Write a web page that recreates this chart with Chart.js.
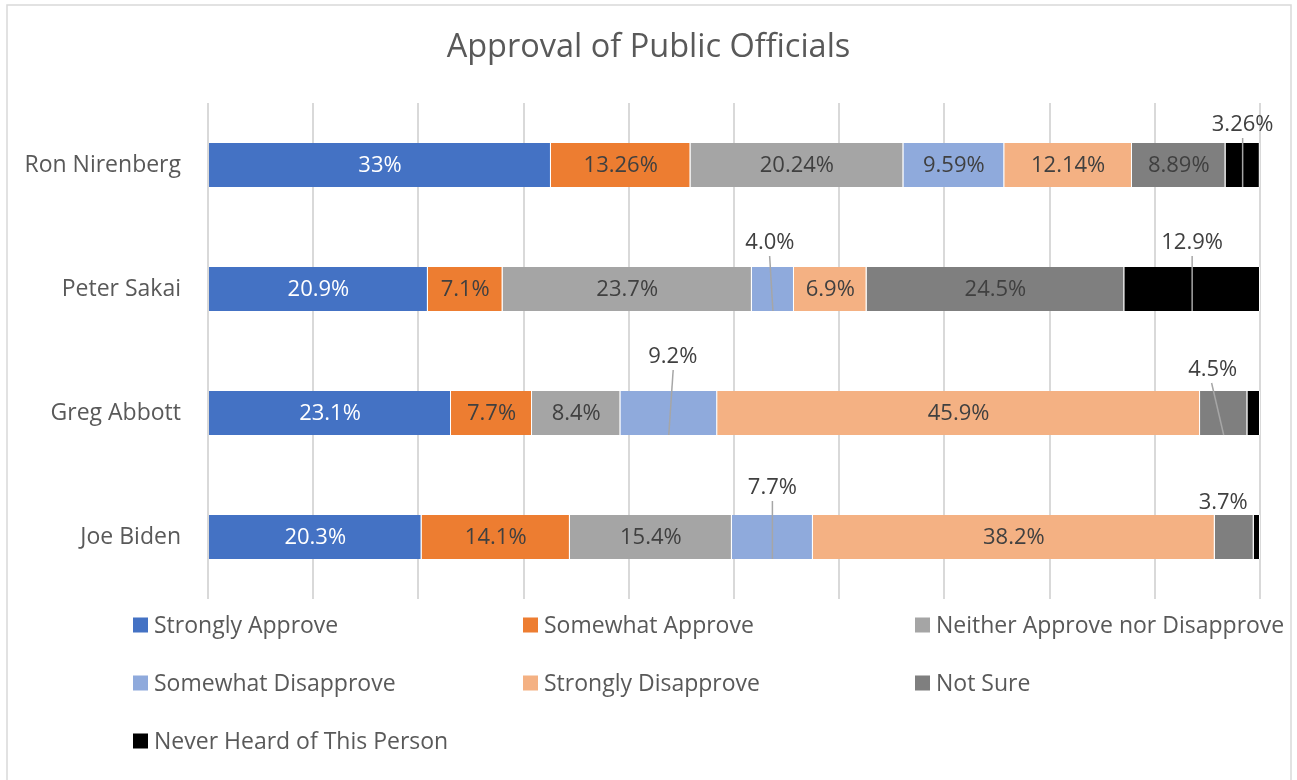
<!DOCTYPE html>
<html lang="en">
<head>
  <meta charset="UTF-8" />
  <title>Approval of Public Officials</title>
  <style>
    html, body {
      margin: 0;
      padding: 0;
      background: #fff;
    }
    #wrap {
      width: 1297px;
      height: 780px;
      position: relative;
    }
  </style>
</head>
<body>
  <div id="wrap">
    <canvas id="grafico" width="1297" height="780"></canvas>
  </div>

  <script src="https://cdn.jsdelivr.net/npm/chart.js"></script>
  <script>
    // categories (top to bottom)
    const officials = ['Ron Nirenberg', 'Peter Sakai', 'Greg Abbott', 'Joe Biden'];

    // series values, in percent
    const strongApprove      = [32.6, 20.9, 23.1, 20.3];
    const somewhatApprove    = [13.26, 7.1, 7.7, 14.1];
    const neither            = [20.24, 23.7, 8.4, 15.4];
    const somewhatDisapprove = [9.59, 4.0, 9.2, 7.7];
    const strongDisapprove   = [12.14, 6.9, 45.9, 38.2];
    const notSure            = [8.89, 24.5, 4.5, 3.7];
    const neverHeard         = [3.26, 12.9, 1.2, 0.6];

    // data label texts as printed on the chart ('' = no label)
    const strongApproveTxt      = ['33%', '20.9%', '23.1%', '20.3%'];
    const somewhatApproveTxt    = ['13.26%', '7.1%', '7.7%', '14.1%'];
    const neitherTxt            = ['20.24%', '23.7%', '8.4%', '15.4%'];
    const somewhatDisapproveTxt = ['9.59%', '4.0%', '9.2%', '7.7%'];
    const strongDisapproveTxt   = ['12.14%', '6.9%', '45.9%', '38.2%'];
    const notSureTxt            = ['8.89%', '24.5%', '4.5%', '3.7%'];
    const neverHeardTxt         = ['3.26%', '12.9%', '', ''];

    const xTicks = [0, 10, 20, 30, 40, 50, 60, 70, 80, 90, 100];

    const titulo = 'Approval of Public Officials';

    // labels that sit above the bar with a leader line: "dataset:category"
    const callouts = {
      '6:0': { dx: 0,   dy: 18, line: true },
      '3:1': { dx: -3,  dy: 24, line: true },
      '6:1': { dx: 0,   dy: 24, line: true },
      '3:2': { dx: 4,   dy: 34, line: true },
      '5:2': { dx: -11, dy: 21, line: true },
      '3:3': { dx: 0,   dy: 27, line: true },
      '5:3': { dx: -11, dy: 12, line: false }
    };

    const FONT = "'Open Sans', 'Noto Sans', sans-serif";
    const TXT = '#595959';

    function serie(label, data, texts, color, labelColor) {
      return {
        label, data,
        texts,
        labelColor,
        backgroundColor: color,
        borderColor: '#ffffff',
        borderWidth: { top: 0, bottom: 0, left: 0, right: 1 },
        borderSkipped: false,
        categoryPercentage: 1,
        barPercentage: 0.355
      };
    }

    const datasets = [
      serie('Strongly Approve', strongApprove, strongApproveTxt, '#4472C4', '#ffffff'),
      serie('Somewhat Approve', somewhatApprove, somewhatApproveTxt, '#ED7D31', '#404040'),
      serie('Neither Approve nor Disapprove', neither, neitherTxt, '#A5A5A5', '#404040'),
      serie('Somewhat Disapprove', somewhatDisapprove, somewhatDisapproveTxt, '#8FAADC', '#404040'),
      serie('Strongly Disapprove', strongDisapprove, strongDisapproveTxt, '#F4B183', '#404040'),
      serie('Not Sure', notSure, notSureTxt, '#7F7F7F', '#404040'),
      serie('Never Heard of This Person', neverHeard, neverHeardTxt, '#000000', '#404040')
    ];

    // outer frame and title, centred on the whole canvas
    const marco = {
      id: 'marco',
      beforeDraw(chart) {
        const ctx = chart.ctx;
        ctx.save();
        ctx.fillStyle = '#fff';
        ctx.fillRect(0, 0, chart.width, chart.height);
        ctx.strokeStyle = '#d9d9d9';
        ctx.lineWidth = 1.5;
        ctx.strokeRect(7, 5, 1284, 800);
        ctx.font = '32.5px ' + FONT;
        ctx.fillStyle = TXT;
        ctx.textAlign = 'center';
        ctx.textBaseline = 'middle';
        ctx.fillText(titulo, chart.width / 2, 48);
        ctx.restore();
      }
    };

    // data labels, inside the segments or above them with a leader line
    const etiquetas = {
      id: 'etiquetas',
      afterDatasetsDraw(chart) {
        const ctx = chart.ctx;
        ctx.save();
        ctx.font = '22px ' + FONT;
        ctx.textAlign = 'center';
        ctx.textBaseline = 'middle';
        chart.data.datasets.forEach((ds, di) => {
          const meta = chart.getDatasetMeta(di);
          meta.data.forEach((bar, i) => {
            const txt = ds.texts[i];
            if (!txt) return;
            const cx = (bar.x + bar.base) / 2;
            const c = callouts[di + ':' + i];
            if (c) {
              const top = bar.y - bar.height / 2;
              const bottom = bar.y + bar.height / 2;
              const lx = cx + c.dx;
              const ly = top - c.dy;
              if (c.line) {
                ctx.strokeStyle = '#a6a6a6';
                ctx.lineWidth = 1.5;
                ctx.beginPath();
                ctx.moveTo(lx + c.dx * 0.1, ly + 13);
                ctx.lineTo(cx, bottom);
                ctx.stroke();
              }
              ctx.fillStyle = '#404040';
              ctx.fillText(txt, lx, ly);
            } else {
              ctx.fillStyle = ds.labelColor;
              ctx.fillText(txt, cx, bar.y + 1);
            }
          });
        });
        ctx.restore();
      }
    };

    // legend in three columns under the plot
    const leyenda = {
      id: 'leyenda',
      afterDraw(chart) {
        const ctx = chart.ctx;
        const cols = [133, 523, 915];
        ctx.save();
        ctx.font = '23px ' + FONT;
        ctx.textBaseline = 'middle';
        ctx.textAlign = 'left';
        chart.data.datasets.forEach((ds, i) => {
          const x = cols[i % 3];
          const y = 625 + Math.floor(i / 3) * 58;
          ctx.fillStyle = ds.backgroundColor;
          ctx.fillRect(x, y - 7.5, 15, 15);
          ctx.fillStyle = TXT;
          ctx.fillText(ds.label, x + 21, y + 1);
        });
        ctx.restore();
      }
    };

    const ctx = document.getElementById('grafico').getContext('2d');
    window.chart = new Chart(ctx, {
      type: 'bar',
      data: { labels: officials, datasets },
      plugins: [marco, etiquetas, leyenda],
      options: {
        indexAxis: 'y',
        responsive: false,
        animation: false,
        events: [],
        layout: { padding: { left: 0, right: 37, top: 103, bottom: 181 } },
        plugins: {
          legend: { display: false },
          tooltip: { enabled: false },
          title: { display: false }
        },
        scales: {
          x: {
            stacked: true,
            min: 0,
            max: 100,
            afterBuildTicks(scale) {
              scale.ticks = xTicks.map(v => ({ value: v }));
            },
            ticks: { display: false },
            grid: { color: '#d9d9d9', lineWidth: 2, drawTicks: false },
            border: { display: false }
          },
          y: {
            stacked: true,
            afterFit(scale) { scale.width = 208; },
            ticks: {
              color: TXT,
              padding: 27,
              font: { family: FONT, size: 23 }
            },
            grid: { display: false, drawTicks: false },
            border: { display: false }
          }
        }
      }
    });
  </script>
</body>
</html>
